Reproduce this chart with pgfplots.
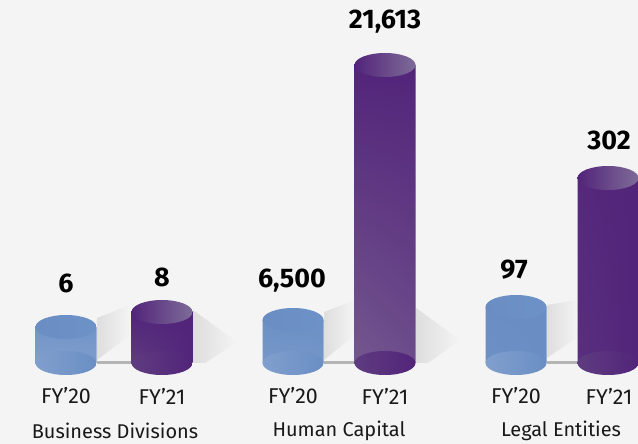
\documentclass[border=0pt]{standalone}
\usepackage{fontspec}
\setmainfont{Fira Sans}
\usepackage{pgfplots}
\pgfplotsset{compat=1.18}
\usetikzlibrary{shapes.geometric,shadings}
\definecolor{bg}{HTML}{F4F4F4}
\definecolor{shd}{HTML}{DEDEDE}
\definecolor{blueA}{HTML}{6A8EC4}
\definecolor{blueL}{HTML}{809FCD}
\definecolor{blueT}{HTML}{6D92C7}
\definecolor{purA}{HTML}{52247A}
\definecolor{purL}{HTML}{74578F}
\definecolor{purB}{HTML}{5E3C80}
\definecolor{purT}{HTML}{7E6C98}
\definecolor{conn}{HTML}{B4B4B4}
\begin{document}
\begin{tikzpicture}
\clip (0,0) rectangle (638bp,444bp);
\fill[bg] (0,0) rectangle (638bp,444bp);
\begin{axis}[
  at={(0,0)}, anchor=south west,
  scale only axis, width=638bp, height=444bp,
  xmin=0, xmax=638, ymin=-81, ymax=363,
  axis lines=none, clip=false,
  ybar, bar width=61bp, bar shift=0pt,
  shadow/.style={draw=none, forget plot, sharp plot, left color=shd, right color=bg},
]
% shadows
\addplot[shadow] coordinates {(97,45) (130,58) (130,28) (97,3) (97,45)};
\addplot[shadow] coordinates {(193,53) (237,21) (205,0) (193,0) (193,53)};
\addplot[shadow] coordinates {(324,51) (355,63) (355,28) (324,3) (324,51)};
\addplot[shadow] coordinates {(416,55) (460,23) (428,0) (416,0) (416,55)};
\addplot[shadow] coordinates {(547,58) (578,63) (578,26) (547,5) (547,58)};
% connectors
\addplot[conn, line width=3bp, sharp plot, forget plot] coordinates {(97,0) (132,0)};
\addplot[conn, line width=3bp, sharp plot, forget plot] coordinates {(324,0) (355,0)};
\addplot[conn, line width=3bp, sharp plot, forget plot] coordinates {(547,0) (578,0)};
% bottom ellipses FY20
\addplot[draw=none, only marks, mark=none, forget plot,
  nodes near coords={}, every node near coord/.style={anchor=center, ellipse, inner sep=0pt,
  minimum width=61bp, minimum height=24bp, left color=blueL, right color=blueA}]
  coordinates {(66,0) (293,0) (516,0)};
% bottom ellipses FY21
\addplot[draw=none, only marks, mark=none, forget plot,
  nodes near coords={}, every node near coord/.style={anchor=center, ellipse, inner sep=0pt,
  minimum width=61bp, minimum height=24bp, left color=purB, right color=purA}]
  coordinates {(162,0) (385,0) (608,0)};
% bodies
\addplot[ybar, draw=none, lower left=blueL, upper left=blueA, upper right=blueA, lower right=blueA] coordinates {(66,36) (293,43) (516,56)};
\addplot[ybar, draw=none, forget plot, lower left=purB, upper left=purA, upper right=purA, lower right=purA] coordinates {(162,51)};
\addplot[ybar, draw=none, lower left=purL, upper left=purA, upper right=purA, lower right=purA] coordinates {(385,298) (608,185)};
% tops
\addplot[draw=none, only marks, mark=none, forget plot,
  nodes near coords={}, every node near coord/.style={anchor=center, ellipse, inner sep=0pt,
  minimum width=61bp, minimum height=24bp, left color=blueA, right color=blueT}]
  coordinates {(66,36) (293,43) (516,56)};
\addplot[draw=none, only marks, mark=none, forget plot,
  nodes near coords={}, every node near coord/.style={anchor=center, ellipse, inner sep=0pt,
  minimum width=61bp, minimum height=24bp, left color=purA, right color=purT}]
  coordinates {(162,51) (385,298) (608,185)};
% value labels
\addplot[draw=none, only marks, mark=none, forget plot,
  point meta=explicit symbolic,
  nodes near coords, every node near coord/.style={anchor=center, font=\fontsize{27}{27}\selectfont\bfseries, text=black}]
  coordinates {(66,80)[6] (162,86)[8] (292,82)[6,500] (385,341)[21,613] (514,93)[97] (609,223)[302]};
% category labels
\addplot[draw=none, only marks, mark=none, forget plot,
  point meta=explicit symbolic,
  nodes near coords, every node near coord/.style={anchor=center, font=\fontsize{21.5}{21.5}\selectfont, text=black!90}]
  coordinates {(66,-33)[FY’20] (162,-33)[FY’21] (293,-33)[FY’20] (385,-33)[FY’21] (516,-33)[FY’20] (609,-33)[FY’21]};
\addplot[draw=none, only marks, mark=none, forget plot,
  point meta=explicit symbolic,
  nodes near coords, every node near coord/.style={anchor=center, font=\fontsize{20}{20}\selectfont, text=black!90}]
  coordinates {(115,-68)[Business Divisions] (339,-68)[Human Capital] (561,-68)[Legal Entities]};
\end{axis}
\end{tikzpicture}
\end{document}
